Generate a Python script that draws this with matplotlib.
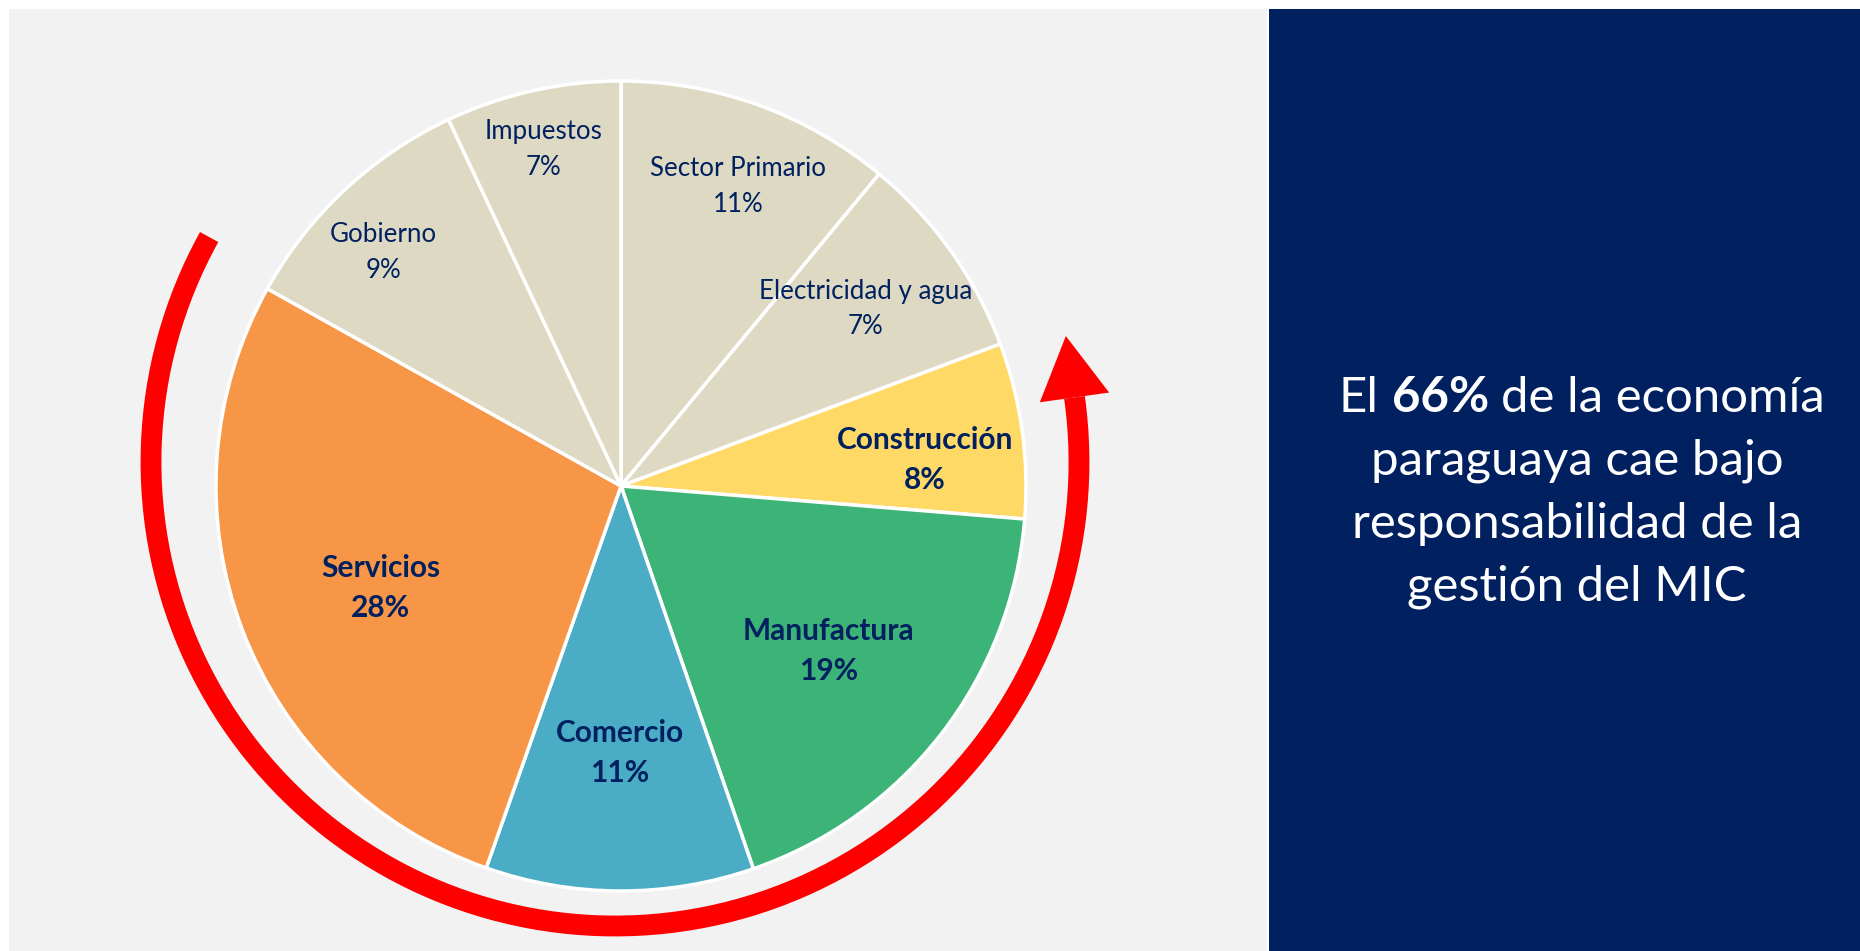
import matplotlib
matplotlib.use("Agg")
import matplotlib.pyplot as plt
from matplotlib.patches import Rectangle, Arc, Polygon
import numpy as np

# sectors, clockwise from the top
sectors = ["Sector Primario", "Electricidad y agua", "Construcción", "Manufactura",
           "Comercio", "Servicios", "Gobierno", "Impuestos"]
shares = [11.0, 8.3, 7.0, 18.4, 10.7, 27.7, 9.9, 7.0]
share_labels = ["11%", "7%", "8%", "19%", "11%", "28%", "9%", "7%"]
mic_sector = [False, False, True, True, True, True, False, False]

message = ["paraguaya cae bajo", "responsabilidad de la", "gestión del MIC"]
headline = ["El", "66%", "de la economía"]

beige = "#ddd9c3"
sector_colors = [beige, beige, "#ffd966", "#3cb478", "#4bacc6", "#f79646", beige, beige]
navy = "#002060"
# label placement: fraction of radius, angle nudge (deg) from wedge middle
label_r = [0.795, 0.745, 0.753, 0.656, 0.659, 0.645, 0.822, 0.852]
label_da = [-1.6, 0.5, -3.0, -0.7, 0.0, 2.3, 2.5, 0.4]

FONT = "Lato"
W, H = 1860, 951

fig = plt.figure(figsize=(W / 100, H / 100), dpi=100)
fig.patch.set_facecolor("white")
ax = fig.add_axes([0, 0, 1, 1])

# panels
ax.add_patch(Rectangle((9, 0), 1258, 942, facecolor="#f2f2f2", edgecolor="none", zorder=0))
ax.add_patch(Rectangle((1269, 0), W - 1269, 942, facecolor=navy, edgecolor="none", zorder=0))

# pie
cx, cy, rad = 621, 465, 405
wedges, _ = ax.pie(shares, colors=sector_colors, startangle=90, counterclock=False,
                   center=(cx, cy), radius=rad,
                   wedgeprops=dict(edgecolor="white", linewidth=2.5))

for w, name, pct, bold, fr, da in zip(wedges, sectors, share_labels, mic_sector,
                                      label_r, label_da):
    mid = np.deg2rad((w.theta1 + w.theta2) / 2 + da)
    x = cx + rad * fr * np.cos(mid)
    y = cy + rad * fr * np.sin(mid)
    ax.text(x, y, f"{name}\n{pct}", ha="center", va="center", color=navy,
            family=FONT, fontsize=21.5 if bold else 18.6,
            fontweight="bold" if bold else "normal", linespacing=1.53, zorder=5)

# red arrow around the MIC sectors
acx, acy, ar = 615, 489, 464
t1, t2 = 151, 368
ax.add_patch(Arc((acx, acy), 2 * ar, 2 * ar, theta1=t1, theta2=t2,
                 color="#ff0000", linewidth=15, capstyle="butt", zorder=3))
te = np.deg2rad(t2)
base = np.array([acx + ar * np.cos(te), acy + ar * np.sin(te)])
tang = np.array([-np.sin(te), np.cos(te)])
norm = np.array([np.cos(te), np.sin(te)])
head = [base + 62 * tang, base + 35 * norm, base - 35 * norm]
ax.add_patch(Polygon(head, closed=True, facecolor="#ff0000", edgecolor="none", zorder=3))

# message on the right
fs = 35.4
tx = 1577
line_y = [H - 398, H - 461, H - 524, H - 587]
fig.canvas.draw()
rend = fig.canvas.get_renderer()


def text_width(s, weight="normal"):
    t = ax.text(0, 0, s, family=FONT, fontsize=fs, fontweight=weight)
    bb = t.get_window_extent(renderer=rend)
    t.remove()
    return bb.width


space = text_width("a a") - text_width("aa")
weights = ["normal", "bold", "normal"]
widths = [text_width(s, wt) for s, wt in zip(headline, weights)]
total = sum(widths) + 2 * space
x0 = tx + 5 - total / 2
for s, wt, wd in zip(headline, weights, widths):
    ax.text(x0, line_y[0], s, family=FONT, fontsize=fs, fontweight=wt, color="white",
            ha="left", va="center")
    x0 += wd + space
for s, y in zip(message, line_y[1:]):
    ax.text(tx, y, s, family=FONT, fontsize=fs, color="white", ha="center", va="center")

ax.set_xlim(0, W)
ax.set_ylim(0, H)
ax.set_aspect("auto")
ax.axis("off")

fig.savefig("out.png", dpi=100, facecolor="white")
